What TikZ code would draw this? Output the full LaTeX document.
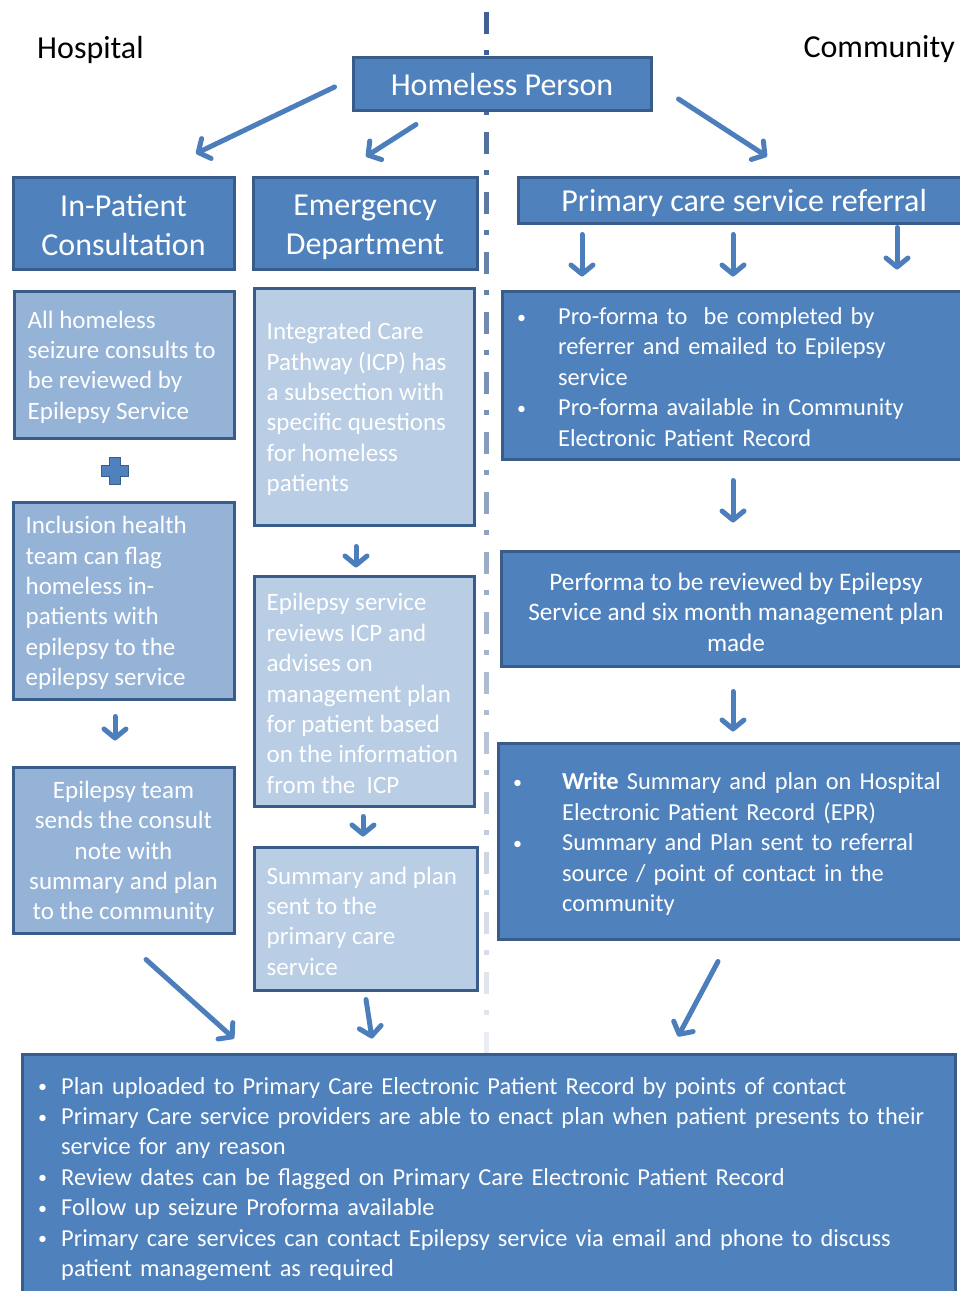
\documentclass[tikz,border=0pt]{standalone}
\usepackage{fontspec}
\setmainfont{Carlito}
\usetikzlibrary{arrows.meta}
\definecolor{dkfill}{RGB}{79,129,189}
\definecolor{bord}{RGB}{56,93,138}
\definecolor{ltone}{RGB}{149,179,215}
\definecolor{lttwo}{RGB}{185,205,229}
\definecolor{arrc}{RGB}{76,126,187}
\definecolor{divc}{RGB}{60,95,145}
\newcommand\bodyf{\fontsize{25}{30.4}\selectfont}
\newcommand\listf{\fontsize{24.4}{30.4}\selectfont}
\newcommand\headf{\fontsize{32}{39}\selectfont}
\newcommand\bul[1]{\hangindent=#1\hangafter=1\noindent\makebox[#1][l]{\raisebox{1.5pt}{\fontsize{18}{18}\selectfont•}}}
\begin{document}
\begin{tikzpicture}[x=1pt,y=-1pt,
  dbox/.style={draw=bord, line width=3pt, fill=dkfill, rectangle, inner sep=0pt},
  lbox/.style={draw=bord, line width=3pt, fill=ltone, rectangle, inner sep=0pt},
  pbox/.style={draw=bord, line width=3pt, fill=lttwo, rectangle, inner sep=0pt},
  htxt/.style={text=white, font=\headf, align=center, inner sep=0pt},
  txt/.style={text=white, font=\bodyf, inner sep=0pt, yshift=-2.5pt},
  ltxt/.style={text=white, font=\listf, inner sep=0pt, yshift=-2pt},
  arr/.style={draw=arrc, line width=5pt, line cap=round, -{Straight Barb[length=9pt,width=22pt,round]}},
  lbl/.style={text=black, font=\headf, inner sep=0pt}]
\useasboundingbox (0,0) rectangle (960,1291);

% dash-dot divider, fading downwards
\foreach \i in {0,...,17}{
  \pgfmathsetmacro\ya{12+60*\i}
  \pgfmathsetmacro\yb{\ya+38}
  \pgfmathtruncatemacro\p{max(6,100-90*(\ya/1050))}
  \draw[line width=5pt, color=divc!\p!white] (486,\ya) -- ++(0,22);
  \draw[line width=5pt, color=divc!\p!white] (486,\yb) -- ++(0,5);
}

% labels
\node[lbl, anchor=west] (hosp) at (37,50) {Hospital};
\node[lbl, anchor=east] (comm) at (955,49) {Community};

% header boxes
\node[dbox, minimum width=298pt, minimum height=53pt] (hp) at (502,83.5) {};
\node[htxt] (hpt) at (502,85) {Homeless Person};
\node[dbox, minimum width=221pt, minimum height=92pt] (inp) at (123.5,223) {};
\node[htxt] (inpt) at (123.5,225) {In-Patient\\Consultation};
\node[dbox, minimum width=224pt, minimum height=92pt] (ed) at (365,223) {};
\node[htxt] (edt) at (365,227) {Emergency\\Department};
\node[dbox, minimum width=457pt, minimum height=46pt] (pc) at (746.5,200) {};
\node[htxt] (pct) at (744,203) {Primary care service referral};

% left column
\node[lbox, minimum width=220pt, minimum height=147pt] (allh) at (124,364.5) {};
\node[txt, anchor=west, align=left] (allht) at ([xshift=15pt]allh.west) {All homeless\\seizure consults to\\be reviewed by\\Epilepsy Service};
\filldraw[fill=dkfill, draw=bord, line width=1.5pt]
  (109.5,457.5) -- (120.5,457.5) -- (120.5,465.5) -- (128.5,465.5) -- (128.5,476.5) -- (120.5,476.5) -- (120.5,484.5) -- (109.5,484.5) -- (109.5,476.5) -- (101.5,476.5) -- (101.5,465.5) -- (109.5,465.5) -- cycle;
\node[lbox, minimum width=221pt, minimum height=197pt] (incl) at (123.5,600.5) {};
\node[txt, anchor=west, align=left] (inclt) at ([xshift=14pt]incl.west) {Inclusion health\\team can flag\\homeless in-\\patients with\\epilepsy to the\\epilepsy service};
\node[lbox, minimum width=221pt, minimum height=166pt] (epit) at (123.5,850) {};
\node[txt, align=center] (epitt) at (epit.center) {Epilepsy team\\sends the consult\\note with\\summary and plan\\to the community};

% middle column
\node[pbox, minimum width=220pt, minimum height=237pt] (icp) at (364,406.5) {};
\node[txt, anchor=west, align=left] (icpt) at ([xshift=14pt]icp.west) {Integrated Care\\Pathway (ICP) has\\a subsection with\\specific questions\\for homeless\\patients};
\node[pbox, minimum width=220pt, minimum height=230pt] (esr) at (364,691) {};
\node[txt, anchor=west, align=left] (esrt) at ([xshift=14pt]esr.west) {Epilepsy service\\reviews ICP and\\advises on\\management plan\\for patient based\\on the information\\from the~ ICP};
\node[pbox, minimum width=223pt, minimum height=143pt] (sap) at (365.5,918.5) {};
\node[txt, anchor=west, align=left] (sapt) at ([xshift=14pt]sap.west) {Summary and plan\\sent to the\\primary care\\service};

% right column
\node[dbox, minimum width=473pt, minimum height=168pt] (prof) at (738.5,375) {};
\node[ltxt, anchor=west, text width=440pt, align=left] (proft) at (517,375) {\parskip=0pt\bul{41pt}Pro-forma to~ be completed by\newline referrer and emailed to Epilepsy\newline service\par\bul{41pt}Pro-forma available in Community\newline Electronic Patient Record\par};
\node[dbox, minimum width=474pt, minimum height=115pt] (perf) at (738,608.5) {};
\node[txt, align=center, font=\fontsize{25.2}{30.4}\selectfont] (perft) at (736,609.5) {Performa to be reviewed by Epilepsy\\Service and six month management plan\\made};
\node[dbox, minimum width=477pt, minimum height=196pt] (wrt) at (736.5,841) {};
\node[ltxt, anchor=west, text width=440pt, align=left] (wrtt) at (513,842) {\parskip=0pt\bul{49pt}\textbf{Write} Summary and plan on Hospital\newline Electronic Patient Record (EPR)\par\bul{49pt}Summary and Plan sent to referral\newline source / point of contact in the\newline community\par};

% bottom box
\node[dbox, minimum width=933pt, minimum height=246pt] (bot) at (488.5,1177) {};
\node[ltxt, anchor=west, text width=910pt, align=left] (bott) at (38,1177) {\parskip=0pt\bul{23pt}Plan uploaded to Primary Care Electronic Patient Record by points of contact\par\bul{23pt}Primary Care service providers are able to enact plan when patient presents to their\newline service for any reason\par\bul{23pt}Review dates can be flagged on Primary Care Electronic Patient Record\par\bul{23pt}Follow up seizure Proforma available\par\bul{23pt}Primary care services can contact Epilepsy service via email and phone to discuss\newline patient management as required\par};

% arrows
\draw[arr] ([shift={(-17,3.5)}]hp.west) -- ([shift={(72.5,-22)}]inp.north);
\draw[arr] ([shift={(-86,13)}]hp.south) -- ([shift={(1,-19)}]ed.north);
\draw[arr] ([shift={(26,15.5)}]hp.east) -- ([shift={(20.5,-19)}]pc.north);
\draw[arr] ([shift={(-164.5,10)}]pc.south) -- ([shift={(-156.5,-13)}]prof.north);
\draw[arr] ([shift={(-13.5,10)}]pc.south) -- ([shift={(-5.5,-13)}]prof.north);
\draw[arr] ([shift={(150.5,3)}]pc.south) -- ([shift={(158.5,-20)}]prof.north);
\draw[arr] ([shift={(-5.5,20)}]prof.south) -- ([shift={(-5,-27)}]perf.north);
\draw[arr] ([shift={(-5,24)}]perf.south) -- ([shift={(-3.5,-10)}]wrt.north);
\draw[arr] ([shift={(-18.5,21)}]wrt.south) -- ([shift={(189.5,-16)}]bot.north);
\draw[arr] ([shift={(-8.5,16)}]incl.south) -- ([shift={(-8.5,-25)}]epit.north);
\draw[arr] ([shift={(22.5,25)}]epit.south) -- ([shift={(-254.5,-14)}]bot.north);
\draw[arr] ([shift={(-8,20)}]icp.south) -- ([shift={(-8,-7)}]esr.north);
\draw[arr] ([shift={(-1,9)}]esr.south) -- ([shift={(-2.5,-9)}]sap.north);
\draw[arr] ([shift={(0.5,8)}]sap.south) -- ([shift={(-116.5,-14)}]bot.north);
\end{tikzpicture}
\end{document}
